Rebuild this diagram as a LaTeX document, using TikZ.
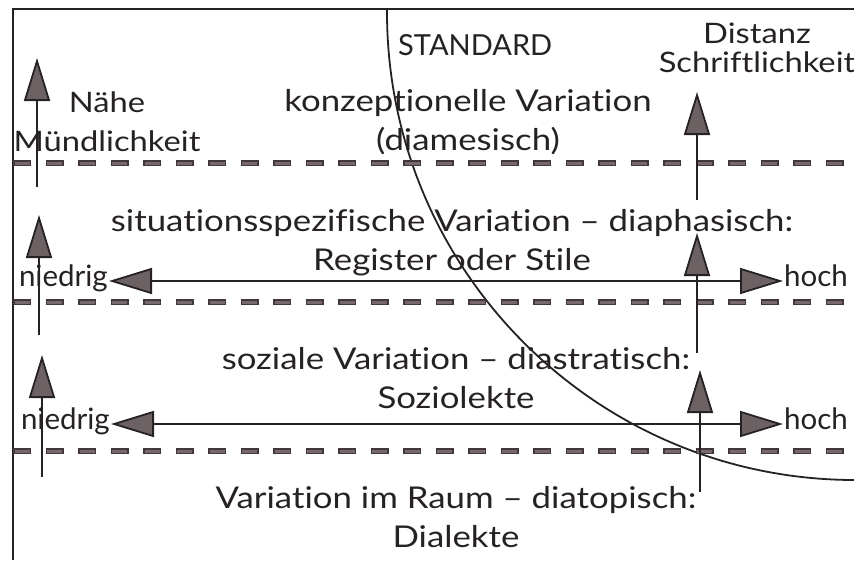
\documentclass[tikz,border=0pt]{standalone}
\usepackage{fontspec}
\setmainfont{Lato}[FakeStretch=1.16, Ligatures=NoCommon]
\newfontfamily\capsfont{Lato}[Ligatures=NoCommon]
\usepackage{tikz}
\usetikzlibrary{arrows.meta}
\definecolor{inkgray}{RGB}{38,34,35}
\definecolor{headgray}{RGB}{108,98,100}
\definecolor{dashdark}{RGB}{66,56,58}
\definecolor{dashgray}{RGB}{118,104,107}
\tikzset{
  lbl/.style={text=inkgray, font=\fontsize{30}{39}\selectfont, align=center, inner sep=0pt},
  sidelbl/.style={lbl, font=\fontsize{28.2}{39}\selectfont},
  endlbl/.style={text=inkgray, font=\capsfont\fontsize{29.5}{32}\selectfont, inner sep=1pt,
    text height=17pt, text depth=6pt},
  uparrow/.style={draw=inkgray, line width=1.8pt, -{Triangle[length=43pt,width=26pt,fill=headgray]}},
  spanarrow/.style={draw=inkgray, line width=1.8pt,
    {Triangle[length=43pt,width=26pt,fill=headgray]}-{Triangle[length=43pt,width=26pt,fill=headgray]}},
  levelsep/.style={line width=5.5pt, dashdark, dash pattern=on 18pt off 14.5pt}
}

\begin{document}
\begin{tikzpicture}[x=1pt,y=-1pt]
\useasboundingbox (0,0) rectangle (854,560);
% frame and standard border
\draw[inkgray, line width=2.2pt] (13,560) -- (13,9) -- (854,9);
\begin{scope}
\clip (13,9) rectangle (854,560);
\draw[inkgray, line width=1.8pt] (855,12) circle[radius=468pt];
\end{scope}
% level separators
\foreach \y in {163,302,451} {
  \draw[levelsep] (13,\y) -- (854,\y);
  \draw[line width=3pt, dashgray, dash pattern=on 15pt off 17.5pt, dash phase=31pt] (13,\y) -- (854,\y);
}
% labels
\node (standard) at (398,55)[lbl, anchor=base west, font=\capsfont\fontsize{29}{30}\selectfont] {STANDARD};
\node (distanz) at (757,72)[sidelbl, anchor=base, font=\fontsize{28.2}{29}\selectfont] {Distanz\\Schriftlichkeit};
\node (naehe) at (107,151)[sidelbl, anchor=base] {Nähe\\Mündlichkeit};
\node (konz) at (468,150)[lbl, anchor=base] {konzeptionelle Variation\\(diamesisch)};
\node (situ) at (452,270)[lbl, anchor=base] {situationsspezifische Variation – diaphasisch:\\Register oder Stile};
\node (sozial) at (456,408)[lbl, anchor=base] {soziale Variation – diastratisch:\\Soziolekte};
\node (raum) at (456,547)[lbl, anchor=base] {Variation im Raum – diatopisch:\\Dialekte};
% niedrig -- hoch
\node (nied1) at (109,281)[endlbl, anchor=east] {niedrig};
\node (hoch1) at (783,281)[endlbl, anchor=west] {hoch};
\node (nied2) at (111,424)[endlbl, anchor=east] {niedrig};
\node (hoch2) at (783,424)[endlbl, anchor=west] {hoch};
\draw[spanarrow] (nied1) -- (hoch1);
\draw[spanarrow] (nied2) -- (hoch2);
% Naehe / Distanz axes
\coordinate (lfoot1) at (37,187);
\coordinate (lhead1) at (37,58);
\coordinate (lfoot2) at (39,335);
\coordinate (lhead2) at (39,215);
\coordinate (lfoot3) at (42,477);
\coordinate (lhead3) at (42,355);
\coordinate (rfoot1) at (697,200);
\coordinate (rhead1) at (697,92);
\coordinate (rfoot2) at (697,353);
\coordinate (rhead2) at (697,233);
\coordinate (rfoot3) at (700,492);
\coordinate (rhead3) at (700,370);
\draw[uparrow] (lfoot1) -- (lhead1);
\draw[uparrow] (lfoot2) -- (lhead2);
\draw[uparrow] (lfoot3) -- (lhead3);
\draw[uparrow] (rfoot1) -- (rhead1);
\draw[uparrow] (rfoot2) -- (rhead2);
\draw[uparrow] (rfoot3) -- (rhead3);
\end{tikzpicture}
\end{document}
